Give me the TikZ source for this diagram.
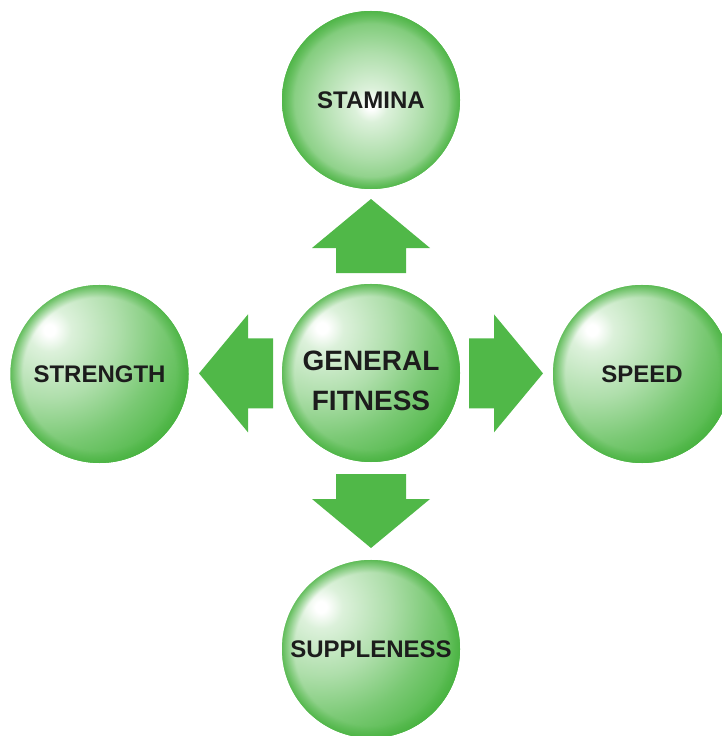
\documentclass[tikz,border=0pt]{standalone}
\usepackage{fontspec}
\setmainfont{Liberation Sans}
\usetikzlibrary{calc,fadings}

\definecolor{leafgreen}{RGB}{80,184,72}
\definecolor{rimgreen}{RGB}{72,178,64}
\definecolor{inkblack}{RGB}{28,28,28}

% soft glossy highlight; its outer colour equals the sphere colour
\pgfdeclareradialshading{glow}{\pgfpointorigin}{%
  color(0bp)=(white); color(0.9bp)=(white);
  color(3.5bp)=(leafgreen!20!white); color(11bp)=(leafgreen!46!white);
  color(18bp)=(leafgreen!76!white); color(25bp)=(leafgreen);
  color(50bp)=(leafgreen)}
% opaque only in a thin band along the edge
\pgfdeclareradialshading{rimmask}{\pgfpointorigin}{%
  color(0bp)=(black); color(21.5bp)=(black);
  color(25bp)=(black!20); color(50bp)=(black!20)}
\pgfdeclarefading{rim}{\pgfuseshading{rimmask}}

\tikzset{
  % #1: offset of the highlight from the centre, #2: reach of the highlight
  sphere/.style 2 args={circle, minimum size=178pt, inner sep=0pt,
    fill=leafgreen, text=inkblack,
    font=\bfseries\fontsize{24}{28}\selectfont,
    path picture={
      \shade[shading=glow] ($(path picture bounding box.center)+(#1)$) circle (#2);
    },
    postaction={fill=rimgreen, path fading=rim}},
  centretext/.style={inner sep=0pt, align=center, text=inkblack,
    font=\bfseries\fontsize{28}{40}\selectfont},
  blockarrow/.pic={
    \fill[leafgreen] (0,-35) -- (25,-35) -- (25,-59) -- (74,0)
      -- (25,59) -- (25,35) -- (0,35) -- cycle;
  }
}

\begin{document}
\begin{tikzpicture}[x=1pt, y=-1pt]
  \useasboundingbox (0,0) rectangle (722,736);

  \node[sphere={-49,-45}{155}] (gf) at (371,373) {};
  \node[centretext] (gflabel) at ($(gf.center)+(0,7.5)$) {GENERAL\\FITNESS};

  \node[sphere={0,5}{120}]     (stamina)    at (371,100)  {STAMINA};
  \node[sphere={-50,-44}{155}] (strength)   at (99.5,374) {STRENGTH};
  \node[sphere={-50,-44}{155}] (speed)      at (642,374)  {SPEED};
  \node[sphere={-50,-42}{155}] (suppleness) at (371,649)  {SUPPLENESS};

  % arrows pointing out from the centre
  \pic[rotate=90]  at ($(gf.center)!100pt!(stamina.center)$)    {blockarrow};
  \pic[rotate=180] at ($(gf.center)!98pt!(strength.center)$)    {blockarrow};
  \pic[rotate=0]   at ($(gf.center)!98pt!(speed.center)$)       {blockarrow};
  \pic[rotate=270] at ($(gf.center)!101pt!(suppleness.center)$) {blockarrow};
\end{tikzpicture}
\end{document}
